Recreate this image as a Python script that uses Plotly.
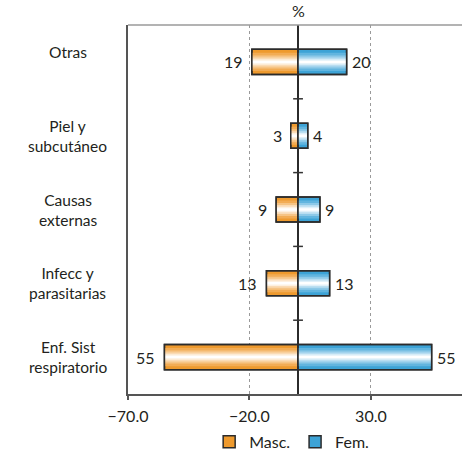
import plotly.graph_objects as go

# Data
categories = ["Otras", "Piel y<br>subcutáneo", "Causas<br>externas",
              "Infecc y<br>parasitarias", "Enf. Sist<br>respiratorio"]
masc = [19, 3, 9, 13, 55]
fem = [20, 4, 9, 13, 55]
x_ticks = [-70, -20, 30]

FONT = "Lato"
TEXT = "#231F20"
ORANGE = ["#EE9A2E", "#F2AC55", "#F6C485", "#FADBB5", "#FDF0E0", "#FFFFFF"]
BLUE = ["#3DA3D6", "#62B5DF", "#8DC9E8", "#B8DDF1", "#E0F0F9", "#FFFFFF"]
LAYER_W = [1.0, 0.72, 0.52, 0.36, 0.22, 0.1]
BAR_W = 0.34

ypos = list(range(len(categories)))
fig = go.Figure()

# Shaded bars: stacked overlays of narrowing, lightening layers
for name, vals, sign, shades in [("Masc.", masc, -1, ORANGE), ("Fem.", fem, 1, BLUE)]:
    xs = [sign * v for v in vals]
    for i, (w, c) in enumerate(zip(LAYER_W, shades)):
        fig.add_trace(go.Bar(
            x=xs, y=ypos, orientation="h", width=BAR_W * w,
            marker=dict(color=c, line=dict(color="#2B2B2B", width=1.5 if i == 0 else 0)),
            name=name, showlegend=(i == 0), legendgroup=name, hoverinfo="skip",
        ))
    # outline drawn on top
    fig.add_trace(go.Bar(
        x=xs, y=ypos, orientation="h", width=BAR_W,
        marker=dict(color="rgba(0,0,0,0)", line=dict(color="#2B2B2B", width=1.5)),
        showlegend=False, legendgroup=name, hoverinfo="skip",
    ))

# small ticks on the zero line between categories
fig.add_trace(go.Scatter(
    x=[0] * (len(categories) - 1), y=[i + 0.5 for i in range(len(categories) - 1)],
    mode="markers", marker=dict(symbol="line-ew", size=7, line=dict(color="#333", width=1.5)),
    showlegend=False, hoverinfo="skip",
))

annotations = []
for i, (m, f) in enumerate(zip(masc, fem)):
    annotations.append(dict(x=-m, y=i, text=str(m), showarrow=False, xanchor="right",
                            xshift=-7, font=dict(family=FONT, size=16, color=TEXT)))
    annotations.append(dict(x=f, y=i, text=str(f), showarrow=False, xanchor="left",
                            xshift=3, font=dict(family=FONT, size=16, color=TEXT)))
for i, c in enumerate(categories):
    label = c if "<br>" in c else c + "<br> "
    annotations.append(dict(x=-0.18, xref="paper", y=i, yref="y", text=label, showarrow=False,
                            xanchor="center", align="center",
                            font=dict(family=FONT, size=15.5, color=TEXT)))
annotations.append(dict(x=0, y=1, yref="paper", yanchor="bottom", yshift=3, text="%",
                        showarrow=False, font=dict(family=FONT, size=16, color=TEXT)))

fig.update_layout(
    width=462, height=454,
    margin=dict(l=128, r=0, t=25, b=60, autoexpand=False),
    paper_bgcolor="white", plot_bgcolor="white",
    barmode="overlay",
    font=dict(family=FONT, size=14, color=TEXT),
    annotations=annotations,
    shapes=[dict(type="line", xref="paper", yref="paper", x0=0, x1=1, y0=1, y1=1,
                 line=dict(color="#9A9A9A", width=1.5))],
    legend=dict(orientation="h", x=0.49, xanchor="center", y=-0.13, yanchor="middle",
                font=dict(family=FONT, size=16, color=TEXT), itemwidth=30,
                traceorder="normal"),
    xaxis=dict(range=[-70, 67.5], tickvals=x_ticks, tickformat=".1f", automargin=False,
               showgrid=True, gridcolor="#9A9A9A", gridwidth=1, griddash="3px,3px",
               zeroline=True, zerolinecolor="#2B2B2B", zerolinewidth=1.5,
               showline=True, linecolor="#555", linewidth=2,
               ticks="outside", ticklen=4, tickcolor="#555", tickwidth=1.5,
               ticklabelstandoff=3,
               tickfont=dict(family=FONT, size=16, color=TEXT)),
    yaxis=dict(range=[len(categories) - 0.5, -0.5], showticklabels=False, showgrid=False,
               automargin=False,
               zeroline=False, showline=True, linecolor="#555", linewidth=2, ticks=""),
)

fig.write_html("out.html")
